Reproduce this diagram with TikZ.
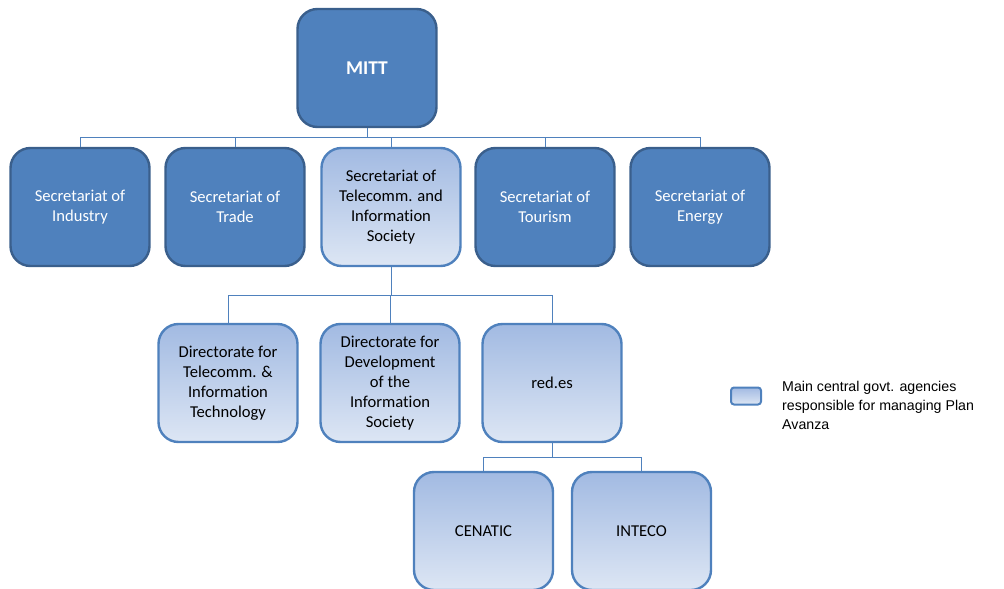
\documentclass[tikz,border=0pt]{standalone}
\usepackage{fontspec}
\setmainfont{Carlito}[Ligatures=NoCommon]
\newfontfamily\legendfont{Liberation Sans}
\definecolor{darkfill}{HTML}{4F81BD}
\definecolor{darkedge}{HTML}{3A5F8C}
\definecolor{lighttop}{HTML}{A2BAE2}
\definecolor{lightbot}{HTML}{DDE6F4}
\definecolor{lightedge}{HTML}{4F81BD}
\definecolor{connc}{HTML}{4F81BD}
\tikzset{
  darkbox/.style={draw=darkedge, fill=darkfill, line width=2.4pt, rounded corners=20pt,
    minimum width=139pt, minimum height=118pt, inner sep=0pt, align=center,
    text=white, font=\fontsize{16.6}{20}\selectfont},
  lightbox/.style={draw=lightedge, top color=lighttop, bottom color=lightbot, line width=2.4pt,
    rounded corners=20pt, minimum width=139pt, minimum height=118pt, inner sep=0pt,
    align=center, text=black, font=\fontsize{16.6}{20}\selectfont},
  conn/.style={draw=connc, line width=0.9pt},
}
\begin{document}
\begin{tikzpicture}[x=1pt,y=-1pt]
\useasboundingbox (0,0) rectangle (1004,589);
\clip (0,0) rectangle (1004,589);
% top
\node[darkbox, font=\bfseries\fontsize{19.5}{22}\selectfont] (mitt) at (367,68) {MITT};
% secretariats
\node[darkbox] (ind) at (80,207) {Secretariat of\\Industry};
\node[darkbox] (trd) at (235,207) {Secretariat of\\Trade};
\node[lightbox] (tel) at (391,207) {Secretariat of\\Telecomm. and\\Information\\Society};
\node[darkbox] (tou) at (545,207) {Secretariat of\\Tourism};
\node[darkbox] (ene) at (700,207) {Secretariat of\\Energy};
% directorates
\node[lightbox] (dti) at (228,383) {Directorate for\\Telecomm. \&\\Information\\Technology};
\node[lightbox] (ddi) at (390,383) {Directorate for\\Development\\of the\\Information\\Society};
\node[lightbox] (red) at (552,383) {red.es};
% agencies
\node[lightbox] (cen) at (483.5,531) {CENATIC};
\node[lightbox] (int) at (641.5,531) {INTECO};
% buses
\coordinate (bus1) at (0,137);
\coordinate (bus2) at (0,295);
\coordinate (bus3) at (0,457);
\foreach \t in {ind,trd,tel,tou,ene}
  \draw[conn] (mitt.south) -- (mitt.south |- bus1) -| (\t.north);
\foreach \t in {dti,ddi,red}
  \draw[conn] (tel.south) -- (tel.south |- bus2) -| (\t.north);
\foreach \t in {cen,int}
  \draw[conn] (red.south) -- (red.south |- bus3) -| (\t.north);
% legend
\node[draw=lightedge, top color=lighttop, bottom color=lightbot, line width=2pt,
  rounded corners=3pt, minimum width=30pt, minimum height=17pt, inner sep=0pt] (leg) at (746,396) {};
\node[anchor=west, align=left, inner sep=0pt, font=\legendfont\fontsize{14.2}{19}\selectfont]
  (legtxt) at (782,405) {Main central govt. agencies\\responsible for managing Plan\\Avanza};
\end{tikzpicture}
\end{document}
